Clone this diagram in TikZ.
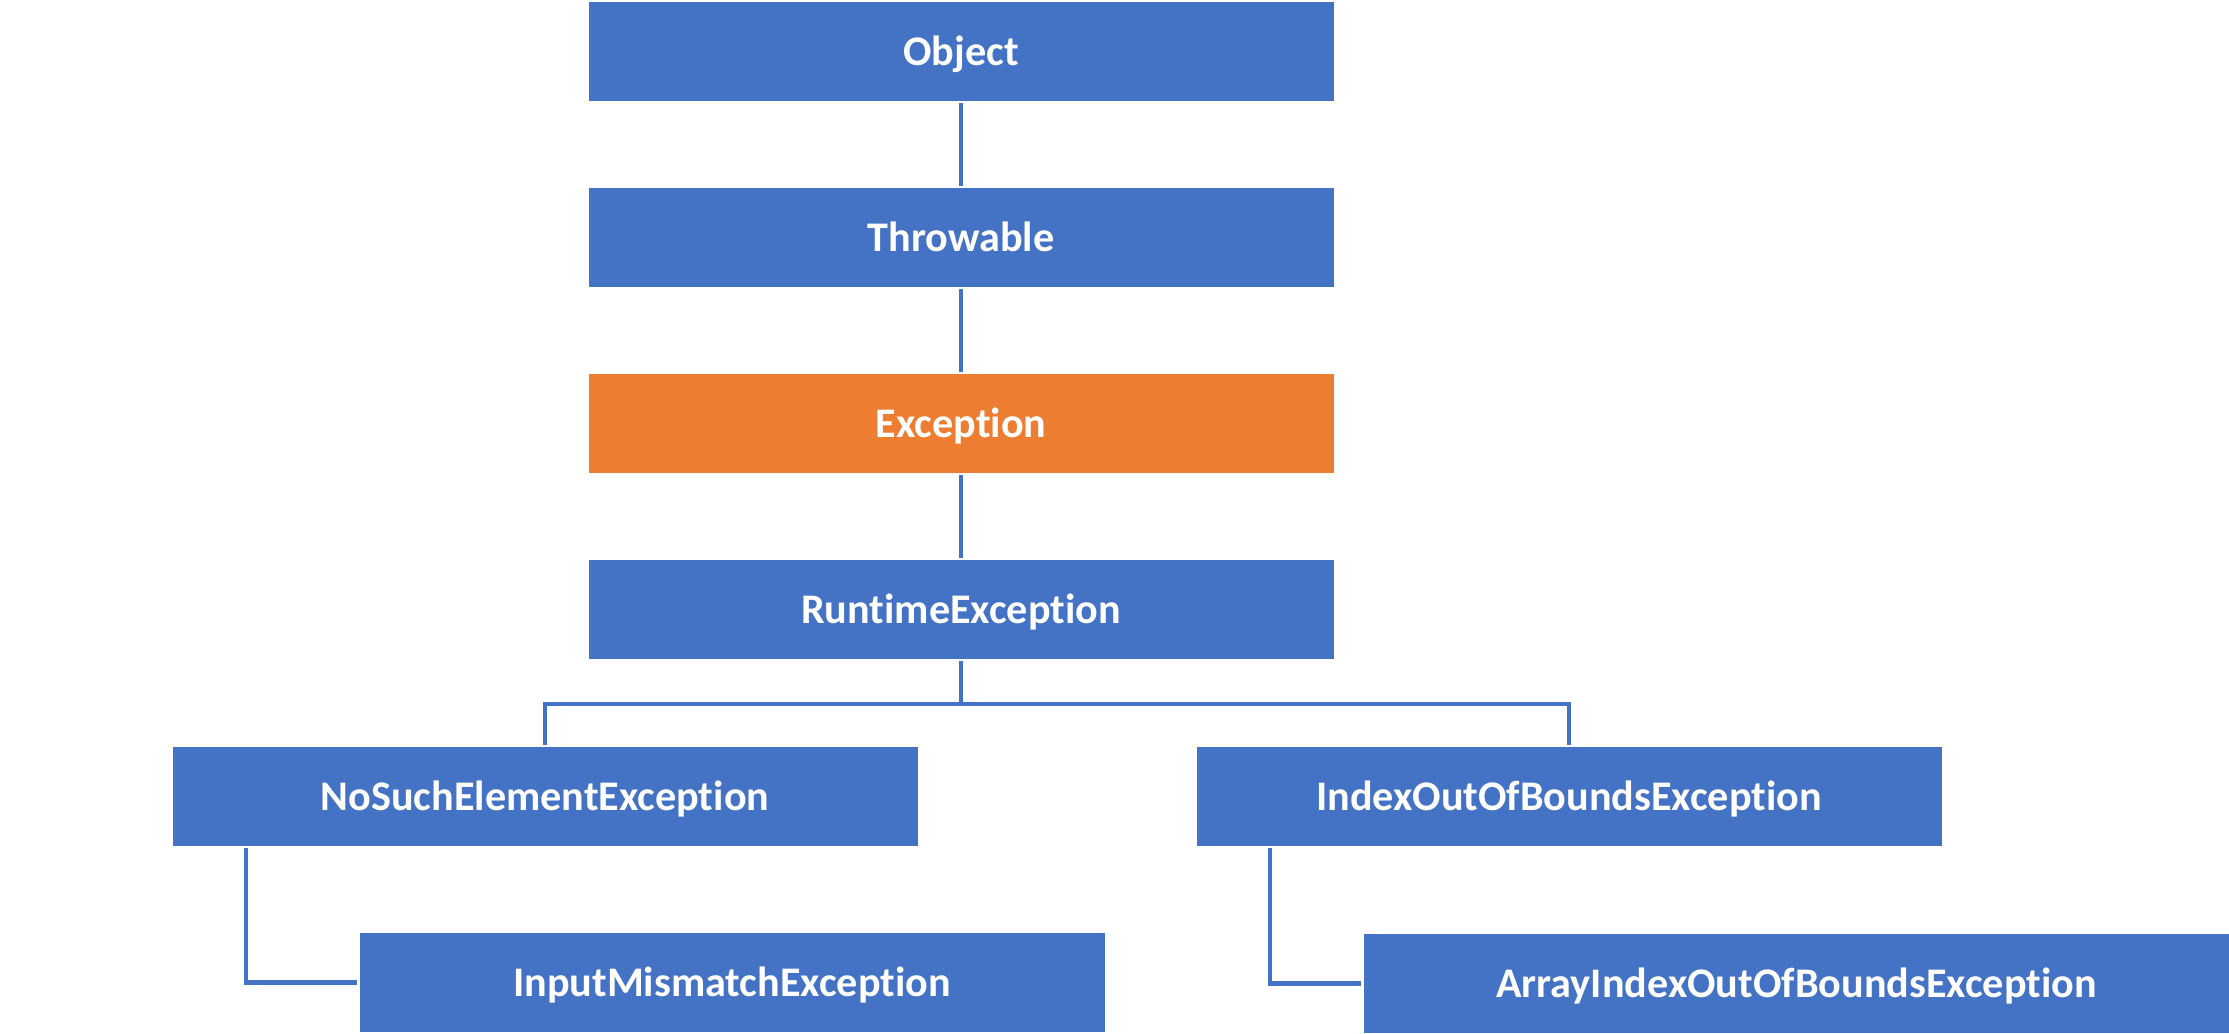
\documentclass[tikz,border=0pt]{standalone}
\usepackage{fontspec}
\setmainfont[Ligatures=NoCommon]{Carlito}
\usepackage{tikz}
\usetikzlibrary{calc}
\definecolor{boxblue}{HTML}{4472C4}
\definecolor{boxorange}{HTML}{ED7D31}

\begin{document}
\begin{tikzpicture}[
		cls/.style={fill=boxblue, minimum width=7.45cm, minimum height=0.99cm, inner sep=0pt, text height=0.27cm, text depth=0pt, text=white, font=\fontsize{12}{14}\selectfont\bfseries},
		link/.style={draw=boxblue, line width=1.3pt, shorten <=0.5pt, shorten >=0.5pt}]
			%%%%% START %%%%%
			
			\useasboundingbox (0, 0) rectangle (22.29, -10.33);
			
			\node[cls] (object) at (9.61, -0.515) {Object};
			\node[cls] (throwable) at (9.61, -2.375) {Throwable};
			\node[cls, fill=boxorange] (exception) at (9.61, -4.235) {Exception};
			\node[cls] (runtime) at (9.61, -6.095) {RuntimeException};
			
			\node[cls] (nosuch) at (5.45, -7.965) {NoSuchElementException};
			\node[cls] (indexoob) at (15.69, -7.965) {IndexOutOfBoundsException};
			
			\node[cls] (mismatch) at (7.32, -9.825) {InputMismatchException};
			\node[cls, minimum width=8.66cm] (arrayoob) at (17.965, -9.835) {ArrayIndexOutOfBoundsException};
			
			\draw[link] (object) -- (throwable);
			\draw[link] (throwable) -- (exception);
			\draw[link] (exception) -- (runtime);
			
			\coordinate (split) at (9.61, -7.04);
			\draw[link, shorten >=0pt] (runtime) -- (split);
			\draw[link, shorten <=0pt] (split) -| (nosuch);
			\draw[link, shorten <=0pt] (split) -| (indexoob);
			
			\draw[link] ([xshift=0.74cm]nosuch.south west) |- (mismatch);
			\draw[link] ([xshift=0.74cm]indexoob.south west) |- (arrayoob);
			
			%%%%% END %%%%%
\end{tikzpicture}
\end{document}
